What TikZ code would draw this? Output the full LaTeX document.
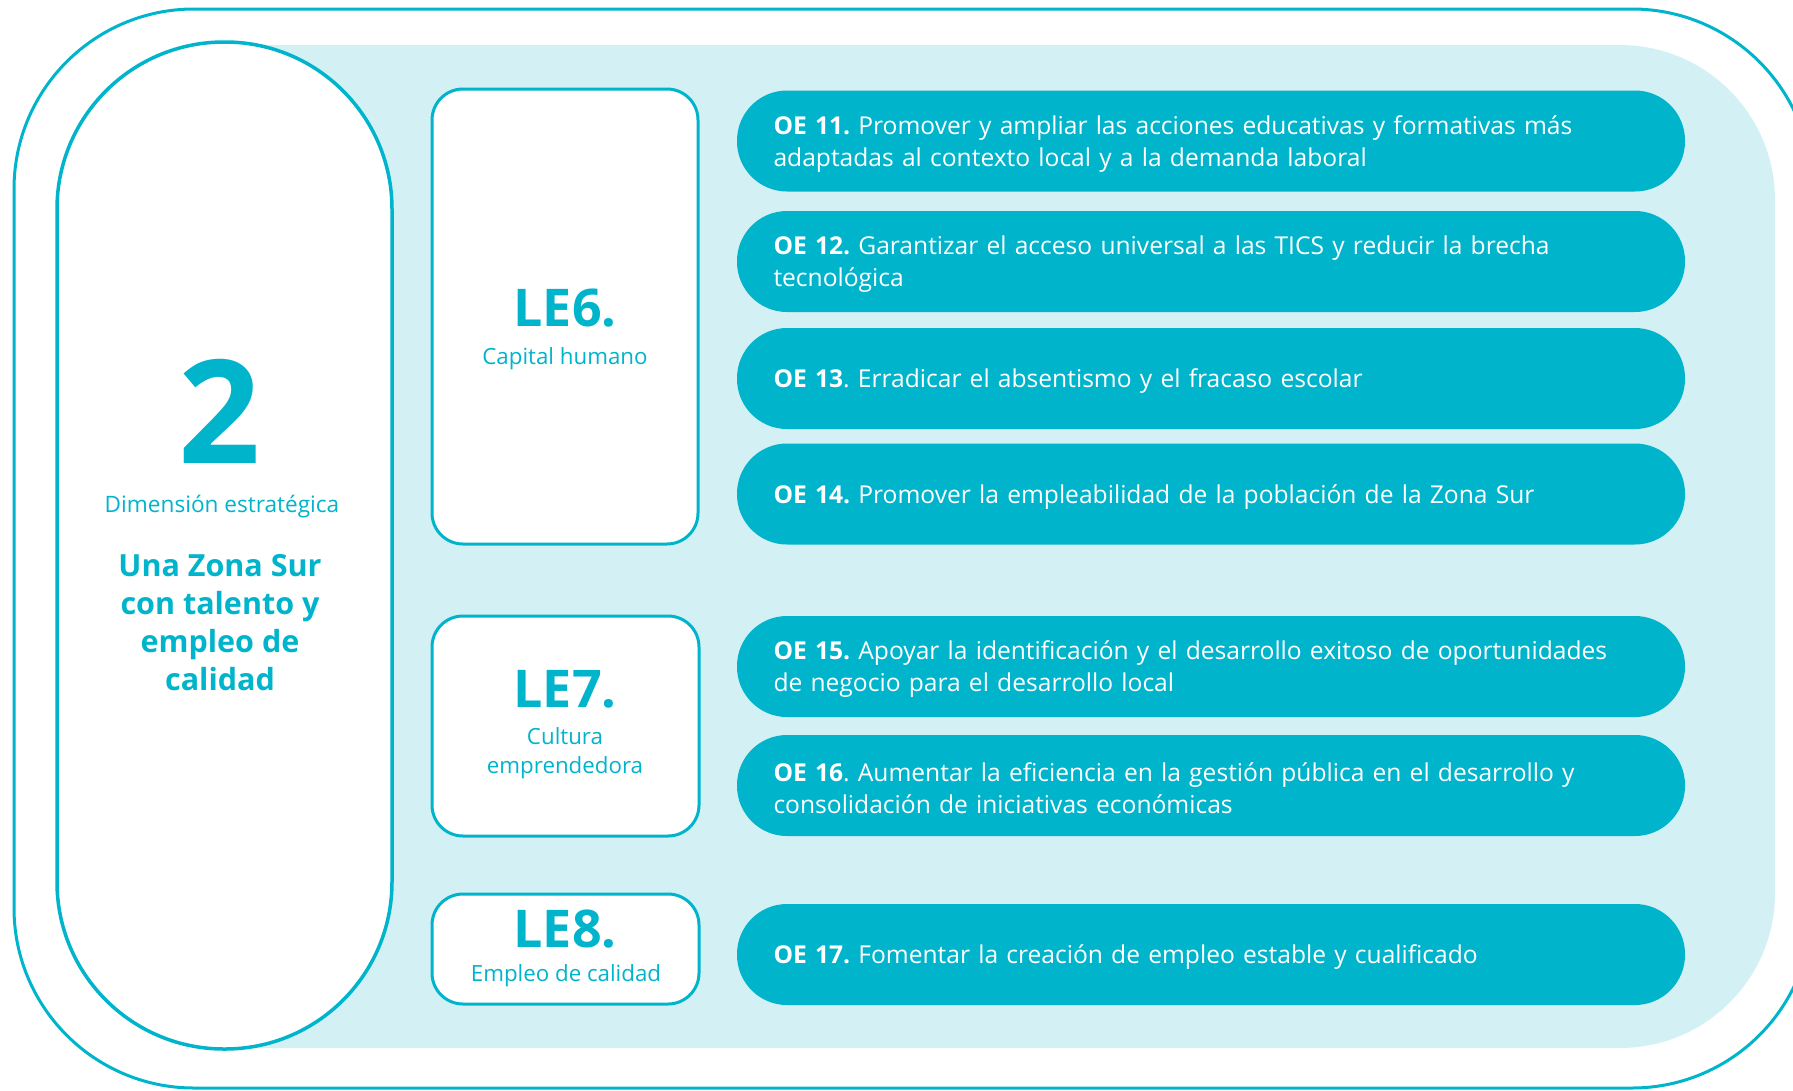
\documentclass[tikz,border=0pt]{standalone}
\usepackage{fontspec}
\setmainfont{Open Sans}
\frenchspacing
\definecolor{mainteal}{RGB}{0,180,204}
\definecolor{lightteal}{RGB}{211,241,245}
\tikzset{
  frameline/.style={draw=mainteal, line width=3pt},
  lebox/.style={draw=mainteal, fill=white, line width=3pt, rounded corners=31pt, inner sep=0pt},
  oebox/.style={fill=mainteal, rounded corners=50pt, minimum width=948pt, minimum height=101pt, inner sep=0pt},
  oetext/.style={text=white, text width=875pt, align=left, inner sep=0pt, font=\fontsize{24.6}{32}\selectfont},
  letitle/.style={text=mainteal, font=\fontsize{52}{52}\selectfont\bfseries, inner sep=0pt, anchor=base},
  lesub/.style={text=mainteal, font=\fontsize{22.3}{29}\selectfont, inner sep=0pt, align=center, anchor=base},
}
\begin{document}
\begin{tikzpicture}[x=1pt,y=-1pt]
\useasboundingbox (0,0) rectangle (1793,1090);
\clip (0,0) rectangle (1793,1090);
% outer frame
\draw[frameline, rounded corners=180pt] (14,9) rectangle (1812,1088);
% light panel
\fill[lightteal, rounded corners=155pt] (100,45) rectangle (1775,1048);
% left pill
\node[draw=mainteal, fill=white, line width=3.5pt, rounded corners=167pt, minimum width=335pt, minimum height=1007pt, inner sep=0pt] (pill) at (224.5,545.5) {};
\node[text=mainteal, font=\fontsize{144}{144}\selectfont\bfseries, inner sep=0pt, anchor=base] (two) at (220,463) {2};
\node[text=mainteal, font=\fontsize{22.6}{26}\selectfont, inner sep=0pt, anchor=base] (dim) at (222,512) {Dimensión estratégica};
\node[text=mainteal, font=\fontsize{30.5}{38}\selectfont\bfseries, inner sep=0pt, align=center] (dimname) at (220,623) {Una Zona Sur\\con talento y\\empleo de\\calidad};
% LE boxes
\node[lebox, minimum width=266pt, minimum height=455pt] (le6) at (565,316.5) {};
\node[lebox, minimum width=267pt, minimum height=220pt] (le7) at (565.5,726) {};
\node[lebox, minimum width=267pt, minimum height=110pt] (le8) at (565.5,949) {};
\node[letitle] (le6t) at (565,326) {LE6.};
\node[lesub] (le6s) at (565,364) {Capital humano};
\node[letitle] (le7t) at (565,707) {LE7.};
\node[lesub] (le7s) at (565,773) {Cultura\\emprendedora};
\node[letitle] (le8t) at (565,947) {LE8.};
\node[lesub] (le8s) at (566,981) {Empleo de calidad};
% OE pills
\node[oebox] (oe11) at (1211,141) {};
\node[oebox] (oe12) at (1211,261.5) {};
\node[oebox] (oe13) at (1211,378.5) {};
\node[oebox] (oe14) at (1211,494) {};
\node[oebox] (oe15) at (1211,666.5) {};
\node[oebox] (oe16) at (1211,785.5) {};
\node[oebox] (oe17) at (1211,954.5) {};
\node[oetext] (oe11t) at ([yshift=-3pt]oe11.center) {\textbf{OE 11.} Promover y ampliar las acciones educativas y formativas más\\adaptadas al contexto local y a la demanda laboral};
\node[oetext] (oe12t) at ([yshift=-3pt]oe12.center) {\textbf{OE 12.} Garantizar el acceso universal a las TICS y reducir la brecha\\tecnológica};
\node[oetext] (oe13t) at ([yshift=-3pt]oe13.center) {\textbf{OE 13}. Erradicar el absentismo y el fracaso escolar};
\node[oetext] (oe14t) at ([yshift=-3pt]oe14.center) {\textbf{OE 14.} Promover la empleabilidad de la población de la Zona Sur};
\node[oetext] (oe15t) at ([yshift=-3pt]oe15.center) {\textbf{OE 15.} Apoyar la identificación y el desarrollo exitoso de oportunidades\\de negocio para el desarrollo local};
\node[oetext] (oe16t) at ([yshift=-3pt]oe16.center) {\textbf{OE 16}. Aumentar la eficiencia en la gestión pública en el desarrollo y\\consolidación de iniciativas económicas};
\node[oetext] (oe17t) at ([yshift=-3pt]oe17.center) {\textbf{OE 17.} Fomentar la creación de empleo estable y cualificado};
\end{tikzpicture}
\end{document}
